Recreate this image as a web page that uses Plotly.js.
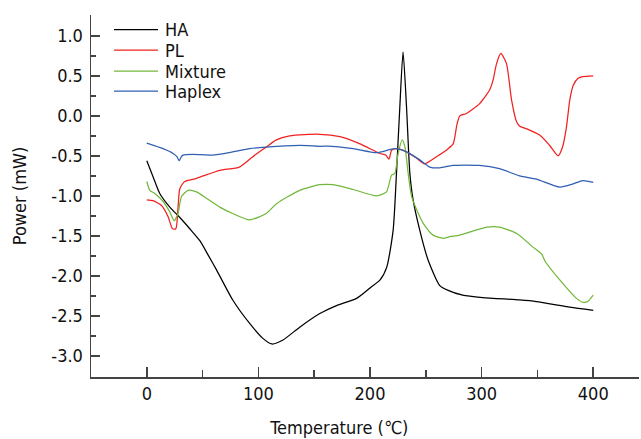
<!DOCTYPE html>
<html>
<head>
<meta charset="utf-8">
<script src="https://cdn.plot.ly/plotly-3.0.1.min.js"></script>
<style>html,body{margin:0;padding:0;background:#fff;}#chart{width:641px;height:439px;}</style>
</head>
<body>
<div id="chart"></div>
<script>
// Temperature (°C) and power (mW)
var haX = [0, 5.6, 11.6, 20.6, 29.6, 38.5, 47.5, 55, 62.7, 77, 92, 104, 112, 122, 137, 155, 170, 188, 200, 209, 215, 220.7, 223.7, 226.7, 229.6, 232.7, 235.7, 238.6, 244.6, 252, 262.5, 270, 283, 301, 334, 349, 379, 400];
var haY = [-0.56, -0.76, -0.97, -1.14, -1.27, -1.41, -1.56, -1.74, -1.93, -2.30, -2.59, -2.78, -2.85, -2.80, -2.64, -2.47, -2.37, -2.28, -2.15, -2.05, -1.89, -1.43, -0.72, 0.11, 0.80, 0.11, -0.72, -1.05, -1.43, -1.80, -2.12, -2.18, -2.24, -2.27, -2.30, -2.32, -2.39, -2.43];

var plX = [0, 5.6, 13.2, 19.1, 23, 26, 28, 29.6, 34, 44.5, 65.4, 83, 95, 107, 116, 128, 155, 173, 191, 208.8, 214, 217, 219.3, 223.7, 232.7, 241.7, 249, 259.6, 270, 274.5, 278, 280.5, 286.5, 298, 307, 310.3, 313.3, 317.2, 322.3, 326.8, 331.3, 334.2, 340, 352, 361, 368.6, 372.5, 376, 379, 382, 386.5, 390.6, 400];
var plY = [-1.05, -1.06, -1.12, -1.26, -1.41, -1.41, -1.14, -0.91, -0.82, -0.78, -0.68, -0.64, -0.51, -0.39, -0.30, -0.25, -0.23, -0.26, -0.35, -0.47, -0.49, -0.54, -0.43, -0.41, -0.45, -0.53, -0.60, -0.51, -0.41, -0.35, -0.10, 0.00, 0.03, 0.15, 0.32, 0.45, 0.65, 0.78, 0.65, 0.20, -0.075, -0.13, -0.16, -0.24, -0.37, -0.50, -0.39, -0.14, 0.20, 0.38, 0.47, 0.49, 0.50];

var mixX = [0, 2.7, 7.2, 14.6, 20.6, 24.5, 28, 31, 37, 44.5, 53.5, 65.4, 77, 92, 107, 116, 137, 155, 167, 185, 206, 214.8, 219.3, 222.2, 225.2, 228.8, 231.3, 234.2, 237.3, 244.6, 248, 256.5, 265.5, 271.5, 280.5, 304.6, 316, 331.5, 346, 354, 357, 370, 385, 391, 395, 400];
var mixY = [-0.82, -0.93, -0.97, -1.07, -1.20, -1.31, -1.22, -1.01, -0.93, -0.95, -1.03, -1.14, -1.22, -1.30, -1.22, -1.10, -0.93, -0.86, -0.86, -0.92, -1.00, -0.95, -0.74, -0.72, -0.47, -0.30, -0.39, -0.72, -1.01, -1.26, -1.35, -1.49, -1.53, -1.51, -1.49, -1.39, -1.39, -1.47, -1.64, -1.73, -1.82, -2.05, -2.28, -2.33, -2.32, -2.24];

var hapX = [0, 14.6, 23.6, 27, 29, 31, 32.5, 41.5, 59, 77, 92, 107, 137, 155, 165.5, 185, 206, 222.2, 232.7, 244.6, 253.6, 262.5, 274, 298, 316, 334, 349, 370, 382, 390.6, 400];
var hapY = [-0.34, -0.41, -0.47, -0.51, -0.56, -0.51, -0.49, -0.48, -0.49, -0.45, -0.41, -0.39, -0.37, -0.38, -0.38, -0.41, -0.46, -0.41, -0.45, -0.55, -0.64, -0.65, -0.62, -0.62, -0.66, -0.75, -0.79, -0.89, -0.85, -0.81, -0.83];

var seriesNames = ["HA", "PL", "Mixture", "Haplex"];
var xTickVals = [0, 100, 200, 300, 400];
var xTickText = ["0", "100", "200", "300", "400"];
var yTickVals = [1.0, 0.5, 0.0, -0.5, -1.0, -1.5, -2.0, -2.5, -3.0];
var yTickText = ["1.0", "0.5", "0.0", "-0.5", "-1.0", "-1.5", "-2.0", "-2.5", "-3.0"];

var FONT = "DejaVu Sans Condensed, Noto Sans, sans-serif";
var FS = 18;
var colors = ["#000000", "#f02020", "#72b83c", "#2f5fb3"];

function tr(x, y, i) {
  return {x: x, y: y, name: seriesNames[i], type: "scatter", mode: "lines", showlegend: false,
          line: {color: colors[i], width: 1.25, shape: "spline", smoothing: 0.6}};
}
var data = [tr(haX, haY, 0), tr(plX, plY, 1), tr(mixX, mixY, 2), tr(hapX, hapY, 3)];

// legend drawn in paper coordinates (plot area: 91..639 px wide, 15..376.7 px tall)
var W = 548, H = 361.7, L = 91, B = 376.7;
function px(p) { return (p - L) / W; }
function py(p) { return (B - p) / H; }
var legendRows = [29.5, 50, 71, 91];
var shapes = [], annotations = [];
seriesNames.forEach(function (n, i) {
  shapes.push({type: "line", xref: "paper", yref: "paper", x0: px(114), x1: px(158),
               y0: py(legendRows[i]), y1: py(legendRows[i]), line: {color: colors[i], width: 1.25}});
  annotations.push({xref: "paper", yref: "paper", x: px(163), y: py(legendRows[i]), xanchor: "left",
                    yanchor: "middle", showarrow: false, text: n, font: {family: FONT, size: FS, color: "#111"}});
});

var axisCommon = {showgrid: false, zeroline: false, showline: true, linecolor: "#444", linewidth: 1.5,
  ticks: "inside", tickcolor: "#444", tickwidth: 1.5, tickfont: {family: FONT, size: FS, color: "#111"}};

var layout = {
  width: 641, height: 439,
  margin: {l: 91, r: 2, t: 15, b: 62},
  paper_bgcolor: "#fff", plot_bgcolor: "#fff",
  font: {family: FONT, size: FS, color: "#111"},
  showlegend: false,
  shapes: shapes,
  annotations: annotations,
  xaxis: Object.assign({}, axisCommon, {
    range: [-50, 441], tickmode: "array", tickvals: xTickVals, ticktext: xTickText, ticklen: 10,
    minor: {dtick: 50, tick0: 0, ticklen: 7, ticks: "inside", tickcolor: "#444", tickwidth: 1.5},
    title: {text: "Temperature (℃)" + "\u00a0\u00a0\u00a0\u00a0\u00a0\u00a0\u00a0\u00a0\u00a0\u00a0\u200b", font: {family: FONT, size: FS, color: "#111"}, standoff: 18}
  }),
  yaxis: Object.assign({}, axisCommon, {
    range: [-3.2625, 1.26], tickmode: "array", tickvals: yTickVals, ticktext: yTickText, ticklen: 9,
    ticklabelstandoff: 3,
    minor: {dtick: 0.25, tick0: 0, ticklen: 5, ticks: "inside", tickcolor: "#444", tickwidth: 1.5},
    title: {text: "Power (mW)", font: {family: FONT, size: FS, color: "#111"}, standoff: 20}
  })
};

Plotly.newPlot("chart", data, layout, {displayModeBar: false, staticPlot: true});
</script>
</body>
</html>
